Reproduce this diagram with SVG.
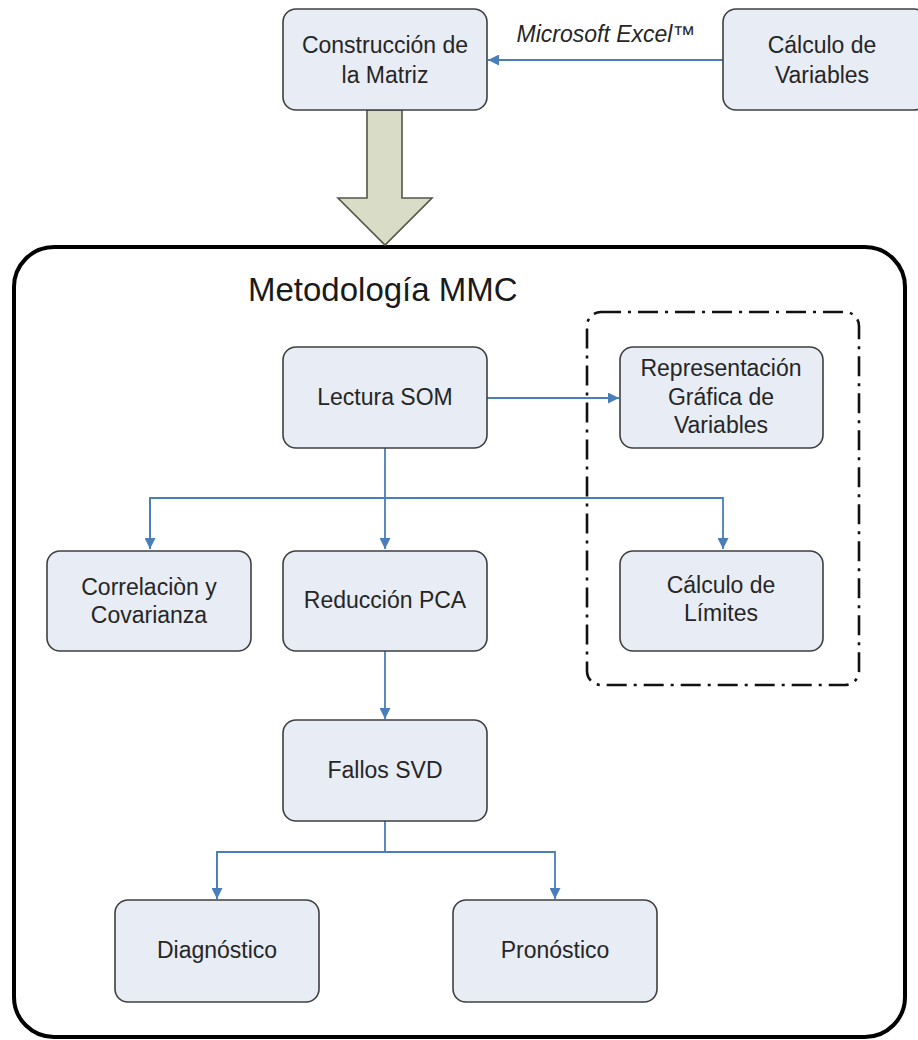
<svg xmlns="http://www.w3.org/2000/svg" width="918" height="1040" viewBox="0 0 918 1040">
<defs>
<style>
.node{fill:#e8ecf4;stroke:#3f3f3f;stroke-width:1.6}
.t{font-family:"Liberation Sans",Arial,sans-serif;font-size:23px;fill:#262626;text-anchor:middle}
.conn{fill:none;stroke:#4a7ebb;stroke-width:1.8}
</style>
<marker id="ah" viewBox="0 0 10 10" refX="10" refY="5" markerWidth="11" markerHeight="11" markerUnits="userSpaceOnUse" orient="auto">
<path d="M0,0 L10,5 L0,10 Z" fill="#4a7ebb"/>
</marker>
</defs>
<rect width="918" height="1040" fill="#ffffff"/>

<g id="outer">
<rect x="14" y="247" width="891" height="790" rx="40" fill="none" stroke="#000" stroke-width="4"/>
<text x="248" y="301" style="font-family:'Liberation Sans',Arial,sans-serif;font-size:33px;fill:#1a1a1a">Metodología MMC</text>
</g>

<g id="group-dashed">
<rect x="587" y="312" width="272" height="373" rx="14" fill="none" stroke="#111" stroke-width="2.6" stroke-dasharray="20 7 3 7"/>
</g>

<g id="big-arrow">
<polygon points="367,110 402,110 402,198 432,198 385,245 338,198 367,198" fill="#d9dcc7" stroke="#555548" stroke-width="1.6"/>
</g>

<g id="connectors">
<line class="conn" x1="723" y1="60" x2="488" y2="60" marker-end="url(#ah)"/>
<line class="conn" x1="487" y1="398" x2="619" y2="398" marker-end="url(#ah)"/>
<line class="conn" x1="385" y1="448" x2="385" y2="549" marker-end="url(#ah)"/>
<polyline class="conn" points="150,549 150,498 723,498 723,549" marker-end="url(#ah)"/>
<line class="conn" x1="150" y1="498" x2="150" y2="549" marker-end="url(#ah)"/>
<line class="conn" x1="385" y1="651" x2="385" y2="719" marker-end="url(#ah)"/>
<line class="conn" x1="385" y1="821" x2="385" y2="852"/>
<polyline class="conn" points="217,899 217,852 555,852 555,899" marker-end="url(#ah)"/>
<line class="conn" x1="217" y1="852" x2="217" y2="899" marker-end="url(#ah)"/>
</g>

<g id="n-construccion">
<rect class="node" x="283" y="9" width="204" height="101" rx="13"/>
<text class="t" x="385" y="53">Construcción de</text>
<text class="t" x="385" y="83">la Matriz</text>
</g>
<g id="n-calculo-variables">
<rect class="node" x="723" y="9" width="204" height="101" rx="13"/>
<text class="t" x="822" y="53">Cálculo de</text>
<text class="t" x="822" y="83">Variables</text>
</g>
<text x="606" y="42" style="font-family:'Liberation Sans',Arial,sans-serif;font-size:23px;font-style:italic;fill:#262626;text-anchor:middle">Microsoft Excel™</text>

<g id="n-lectura">
<rect class="node" x="283" y="347" width="204" height="101" rx="13"/>
<text class="t" x="385" y="405">Lectura SOM</text>
</g>
<g id="n-representacion">
<rect class="node" x="620" y="347" width="203" height="101" rx="13"/>
<text class="t" x="721" y="376">Representación</text>
<text class="t" x="721" y="405">Gráfica de</text>
<text class="t" x="721" y="433">Variables</text>
</g>
<g id="n-correlacion">
<rect class="node" x="47" y="551" width="204" height="100" rx="13"/>
<text class="t" x="149" y="595">Correlaciòn y</text>
<text class="t" x="149" y="623">Covarianza</text>
</g>
<g id="n-reduccion">
<rect class="node" x="283" y="551" width="204" height="100" rx="13"/>
<text class="t" x="385" y="608">Reducción PCA</text>
</g>
<g id="n-limites">
<rect class="node" x="620" y="551" width="203" height="100" rx="13"/>
<text class="t" x="721" y="593">Cálculo de</text>
<text class="t" x="721" y="621">Límites</text>
</g>
<g id="n-fallos">
<rect class="node" x="283" y="720" width="204" height="101" rx="13"/>
<text class="t" x="385" y="778">Fallos SVD</text>
</g>
<g id="n-diagnostico">
<rect class="node" x="115" y="900" width="204" height="102" rx="13"/>
<text class="t" x="217" y="958">Diagnóstico</text>
</g>
<g id="n-pronostico">
<rect class="node" x="453" y="900" width="204" height="102" rx="13"/>
<text class="t" x="555" y="958">Pronóstico</text>
</g>
</svg>
